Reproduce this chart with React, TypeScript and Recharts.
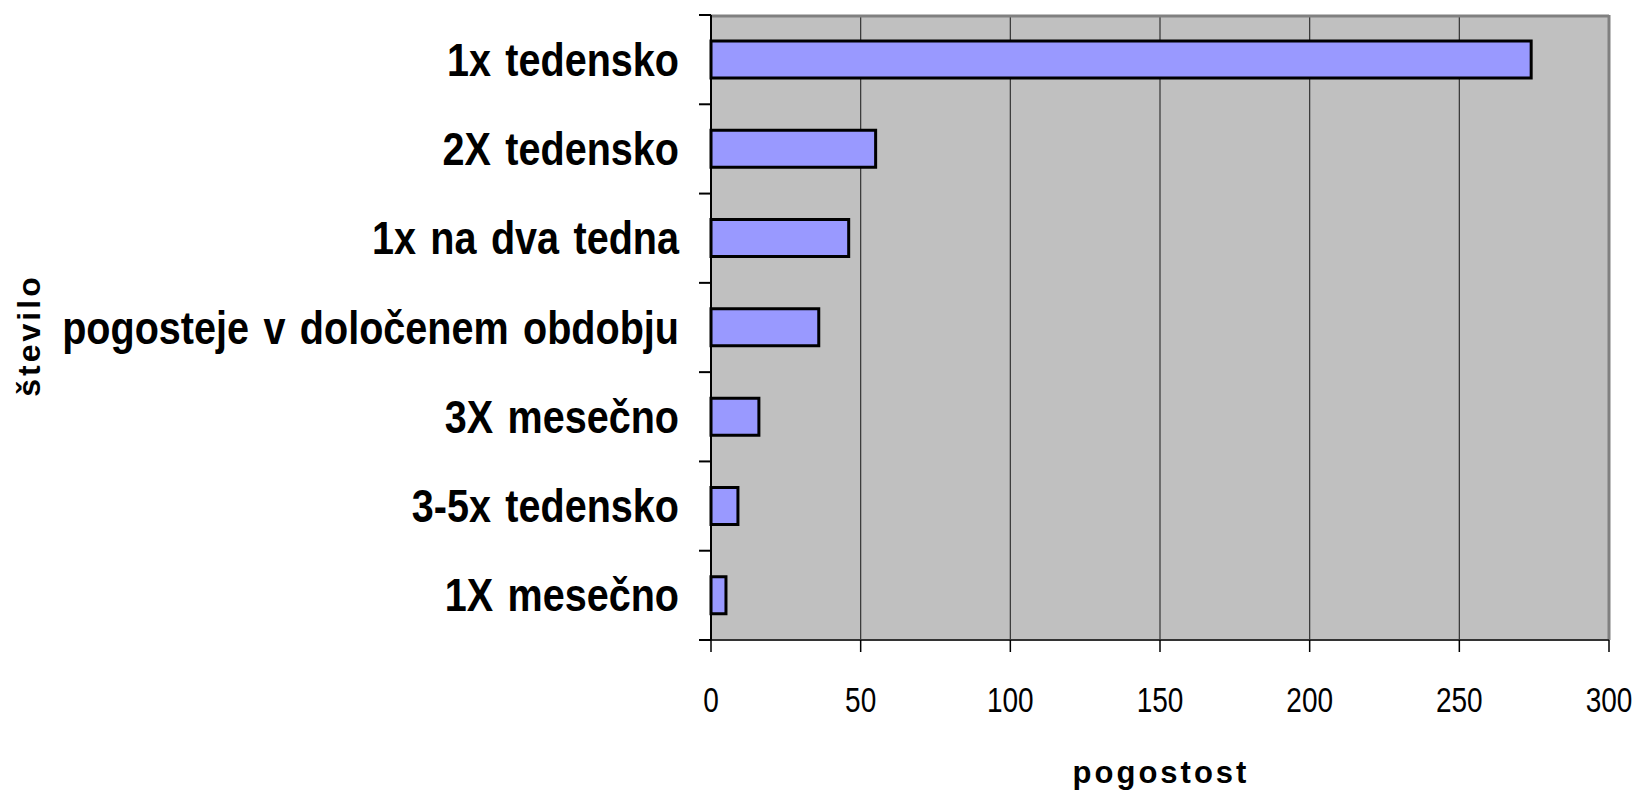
import { BarChart, Bar, XAxis, YAxis, CartesianGrid, ReferenceLine, Label } from 'recharts';

const categories = [
  '1x tedensko',
  '2X tedensko',
  '1x na dva tedna',
  'pogosteje v določenem obdobju',
  '3X mesečno',
  '3-5x tedensko',
  '1X mesečno',
];
const counts = [274, 55, 46, 36, 16, 9, 5];
const xTicks = [0, 50, 100, 150, 200, 250, 300];

const data = categories.map((name, i) => ({ name, value: counts[i] }));

const FONT = '"Liberation Sans", Arial, sans-serif';
const PLOT_TOP = 15;
const PLOT_BOTTOM = 640;
const BAND = (PLOT_BOTTOM - PLOT_TOP) / categories.length;

const CategoryTick = (props: any) => {
  const { x, y, payload, index } = props;
  const axisX = x;
  return (
    <g>
      <line x1={axisX - 12} x2={axisX} y1={y - BAND / 2} y2={y - BAND / 2} stroke="#000" strokeWidth={2} />
      {index === categories.length - 1 && (
        <line x1={axisX - 12} x2={axisX} y1={y + BAND / 2} y2={y + BAND / 2} stroke="#000" strokeWidth={2} />
      )}
      <text
        transform={`translate(${axisX - 32}, ${y + 16}) scale(0.86, 1)`}
        textAnchor="end"
        fontFamily={FONT}
        fontWeight="bold"
        fontSize={46}
        wordSpacing={4}
        fill="#000"
      >
        {payload.value}
      </text>
    </g>
  );
};

const ValueTick = (props: any) => {
  const { x, y, payload } = props;
  return (
    <g>
      <line x1={x} x2={x} y1={y} y2={y + 12} stroke="#000" strokeWidth={1.5} />
      <text
        transform={`translate(${x}, ${y + 72}) scale(0.8, 1)`}
        textAnchor="middle"
        fontFamily={FONT}
        fontSize={35}
        fill="#000"
      >
        {payload.value}
      </text>
    </g>
  );
};

export default function App() {
  return (
    <div style={{ position: 'fixed', left: 0, top: 0, background: '#fff' }}>
      <BarChart
        width={1638}
        height={802}
        data={data}
        layout="vertical"
        margin={{ top: PLOT_TOP, right: 29, bottom: 0, left: 0 }}
        barSize={37}
      >
        <CartesianGrid fill="#C0C0C0" stroke="#333" strokeWidth={1.2} horizontal={false} />
        <CartesianGrid vertical={false} horizontalPoints={[PLOT_TOP + 1]} stroke="#808080" strokeWidth={3} />
        <XAxis
          type="number"
          domain={[0, 300]}
          ticks={xTicks}
          tickLine={false}
          tickSize={0}
          tickMargin={0}
          tick={<ValueTick />}
          stroke="#333"
          strokeWidth={2}
          height={802 - PLOT_BOTTOM}
          interval={0}
        >
          <Label
            content={(p: any) => {
              const vb = p.viewBox;
              return (
                <text x={vb.x + vb.width / 2 + 1} y={783} textAnchor="middle" fontFamily={FONT} fontWeight="bold" fontSize={31} letterSpacing={3} fill="#000">
                  pogostost
                </text>
              );
            }}
          />
        </XAxis>
        <YAxis
          type="category"
          dataKey="name"
          width={711}
          tickLine={false}
          tickSize={0}
          tickMargin={0}
          tick={<CategoryTick />}
          stroke="#000"
          strokeWidth={2}
          interval={0}
        >
          <Label
            content={(p: any) => {
              const vb = p.viewBox;
              const cx = 29;
              const cy = vb.y + vb.height / 2 + 8;
              return (
                <text x={cx} y={cy} transform={`rotate(-90 ${cx} ${cy})`} textAnchor="middle" dominantBaseline="central" fontFamily={FONT} fontWeight="bold" fontSize={32} letterSpacing={3} fill="#000">
                  število
                </text>
              );
            }}
          />
        </YAxis>
        <ReferenceLine x={300} stroke="#808080" strokeWidth={3} />
        <Bar dataKey="value" fill="#9999FF" stroke="#000" strokeWidth={3} isAnimationActive={false} />
      </BarChart>
    </div>
  );
}
